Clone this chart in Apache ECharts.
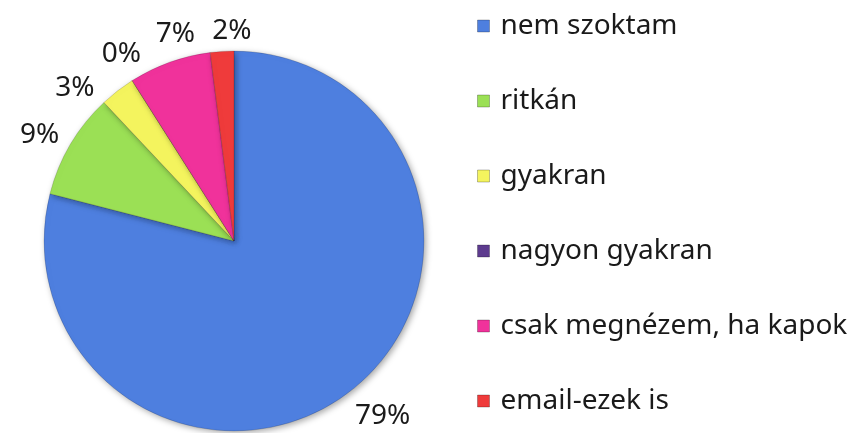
<!DOCTYPE html>
<html>
<head>
<meta charset="utf-8">
<script src="https://cdn.jsdelivr.net/npm/echarts@6/dist/echarts.min.js"></script>
<style>
  html, body { margin: 0; padding: 0; background: #fff; }
  #chart { width: 852px; height: 433px; }
</style>
</head>
<body>
<div id="chart"></div>
<script>
    // kategoriak es ertekek (%)
    const categories = ['nem szoktam', 'ritkán', 'gyakran', 'nagyon gyakran', 'csak megnézem, ha kapok', 'email-ezek is']
    const values = [79, 9, 3, 0, 7, 2]
    const colors = ['#4e7fdf', '#9be055', '#f4f45e', '#5d3b8e', '#f0329b', '#ef3b3b']

    const W = 852, H = 433
    const cx = 234, cy = 241, r = 190

    // cimkek szoge a szeletek kozepen, a tul kozeli cimkeket szethuzzuk
    const total = values.reduce((a, b) => a + b, 0)
    let acc = 0
    const labelAngles = values.map(v => {
        const m = (acc + v / 2) / total * 360
        acc += v
        return m
    })
    const minGap = 15
    for (let k = 0; k < 80; k++) {
        for (let i = 1; i < labelAngles.length; i++) {
            const gap = labelAngles[i] - labelAngles[i - 1]
            if (gap < minGap) {
                const d = (minGap - gap) / 2
                labelAngles[i - 1] -= d
                labelAngles[i] += d
            }
        }
    }

    const chart = echarts.init(document.getElementById('chart'))

    const pieData = categories.map((name, i) => ({
        name: name,
        value: values[i],
        itemStyle: { color: colors[i] }
    }))

    const option = {
        animation: false,
        textStyle: { fontFamily: 'Noto Sans' },
        legend: {
            orient: 'vertical',
            left: 472,
            top: 6,
            itemWidth: 12,
            itemHeight: 12,
            itemGap: 45,
            icon: 'rect',
            data: categories,
            itemStyle: {
                borderColor: 'rgba(0,0,0,0.25)',
                borderWidth: 1
            },
            textStyle: {
                fontSize: 28,
                lineHeight: 30,
                color: '#1a1a1a',
                padding: [0, 0, 0, 6]
            }
        },
        series: [
            {
                type: 'pie',
                center: [cx, cy],
                radius: r,
                startAngle: 90,
                clockwise: true,
                percentPrecision: 0,
                minShowLabelAngle: -1,
                avoidLabelOverlap: false,
                data: pieData,
                itemStyle: {
                    borderColor: 'rgba(0,0,0,0.15)',
                    borderWidth: 1,
                    shadowColor: 'rgba(0,0,0,0.35)',
                    shadowBlur: 6,
                    shadowOffsetX: 2,
                    shadowOffsetY: 2
                },
                label: {
                    show: true,
                    position: 'outside',
                    formatter: '{d}%',
                    fontSize: 28,
                    color: '#1a1a1a'
                },
                labelLine: { show: false },
                labelLayout: function (params) {
                    const w = params.labelRect.width
                    const h = params.labelRect.height
                    let a = labelAngles[params.dataIndex] * Math.PI / 180
                    const dist = () => r + 9 + Math.abs(w / 2 * Math.sin(a)) + Math.abs(h / 2 * Math.cos(a))
                    let R = dist()
                    let y = cy - R * Math.cos(a)
                    // ne logjon ki alul
                    if (y + h / 2 > H - 6) {
                        const c = (H - 6 - h / 2 - cy) / R
                        a = Math.sin(a) >= 0 ? Math.acos(-c) : 2 * Math.PI - Math.acos(-c)
                        R = dist()
                    }
                    return {
                        x: cx + R * Math.sin(a),
                        y: cy - R * Math.cos(a) + 3,
                        align: 'center',
                        verticalAlign: 'middle'
                    }
                }
            }
        ]
    }

    chart.setOption(option)
</script>
</body>
</html>
